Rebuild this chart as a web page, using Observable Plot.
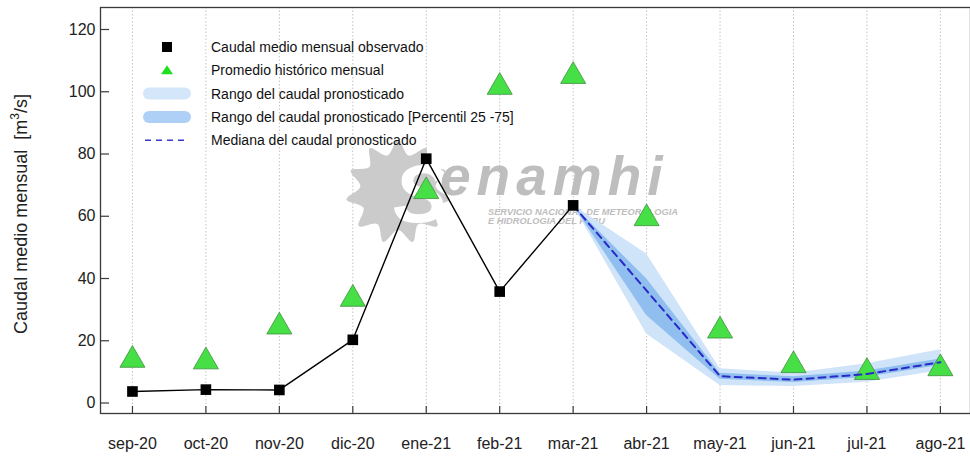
<!DOCTYPE html>
<html><head><meta charset="utf-8">
<script src="https://cdn.jsdelivr.net/npm/d3@7"></script>
<script src="https://cdn.jsdelivr.net/npm/@observablehq/plot@0.6"></script>
<style>
body{margin:0;background:#fff;font-family:"Liberation Sans",Arial,sans-serif;}
#wrap{width:970px;height:456px;overflow:hidden}
</style></head><body><div id="wrap"></div>
<script>
// ---- data ----
const months = ["sep-20","oct-20","nov-20","dic-20","ene-21","feb-21","mar-21","abr-21","may-21","jun-21","jul-21","ago-21"];
const observed = [3.7, 4.3, 4.2, 20.3, 78.5, 35.8, 63.5];
const historical = [13.8, 13.3, 24.5, 33.4, 68.0, 101.5, 105.0, 59.3, 23.2, 12.1, 9.9, 11.1];
const forecastMonths = ["mar-21","abr-21","may-21","jun-21","jul-21","ago-21"];
const median = [63.5, 36.1, 8.6, 7.5, 9.3, 13.1];
const rangeMin = [63.5, 22.2, 5.6, 5.3, 6.7, 10.4];
const rangeMax = [63.5, 47.9, 11.0, 9.6, 12.6, 17.1];
const p25 = [63.5, 28.1, 7.6, 6.6, 8.3, 12.1];
const p75 = [63.5, 39.9, 9.6, 8.4, 10.3, 14.1];
const yTicks = [0, 20, 40, 60, 80, 100, 120];
const legendLabels = [
  "Caudal medio mensual observado",
  "Promedio histórico mensual",
  "Rango del caudal pronosticado",
  "Rango del caudal pronosticado [Percentil 25 -75]",
  "Mediana del caudal pronosticado"
];
const yLabel = ["Caudal medio mensual  [m", "3", "/s]"];
const watermarkText = ["S", "enamhi", "SERVICIO NACIONAL DE METEOROLOGIA", "E HIDROLOGIA DEL PERU"];

// ---- tables ----
const idx = months.map((_, i) => i);
const obsT = observed.map((v, i) => ({x: i, y: v}));
const histT = historical.map((v, i) => ({x: i, y: v}));
const fcT = forecastMonths.map((m, i) => ({
  x: months.indexOf(m), med: median[i], lo: rangeMin[i], hi: rangeMax[i], q1: p25[i], q3: p75[i]
}));

const W = 970, H = 456, mL = 100, mR = 0, mT = 7, mB = 43;
const innerW = W - mL - mR, innerH = H - mT - mB;

function watermark() {
  const g = d3.create("svg:g").attr("opacity", 0.9);
  const cx = 398, cy = 192;
  const pts = [];
  const n = 11;
  for (let k = 0; k < n * 2; k++) {
    const a = (k / (n * 2)) * 2 * Math.PI;
    const r = k % 2 === 0 ? 52 : 38;
    pts.push([a, r]);
  }
  g.append("path")
    .attr("transform", `translate(${cx},${cy})`)
    .attr("d", d3.lineRadial().curve(d3.curveCardinalClosed.tension(0))(pts))
    .attr("fill", "#c6c6c6");
  const t = g.append("text").attr("text-anchor", "start")
    .attr("font-family", "Liberation Sans, Arial").attr("font-weight", "bold").attr("font-style", "italic");
  t.append("tspan").attr("x", 393).attr("y", 222).attr("font-size", 82).attr("fill", "#fff").text(watermarkText[0]);
  t.append("tspan").attr("x", 440).attr("y", 195).attr("font-size", 55).attr("fill", "#b8b8b8")
    .attr("letter-spacing", 6).text(watermarkText[1]);
  t.append("tspan").attr("x", 488).attr("y", 215).attr("font-size", 9).attr("fill", "#b8b8b8")
    .attr("textLength", 190).attr("lengthAdjust", "spacingAndGlyphs").text(watermarkText[2]);
  t.append("tspan").attr("x", 488).attr("y", 224).attr("font-size", 9).attr("fill", "#b8b8b8")
    .attr("textLength", 117).attr("lengthAdjust", "spacingAndGlyphs").text(watermarkText[3]);
  return g.node();
}

function legendAndLabel() {
  const g = d3.create("svg:g");
  const base = [52, 75.3, 98.6, 122, 145.3];
  const sx = 167;
  g.append("rect").attr("x", sx - 5).attr("y", base[0] - 10).attr("width", 10).attr("height", 10).attr("fill", "#000");
  const ty = base[1] - 5;
  g.append("path").attr("d", `M${sx},${ty - 5}L${sx + 6},${ty + 4}L${sx - 6},${ty + 4}Z`).attr("fill", "#1ee01e");
  g.append("rect").attr("x", 143).attr("y", base[2] - 11).attr("width", 48).attr("height", 12).attr("rx", 6).attr("fill", "#d4e7fa");
  g.append("rect").attr("x", 143).attr("y", base[3] - 11).attr("width", 48).attr("height", 12).attr("rx", 6).attr("fill", "#aed0f6");
  g.append("line").attr("x1", 145).attr("x2", 188).attr("y1", base[4] - 5).attr("y2", base[4] - 5)
    .attr("stroke", "#3838d0").attr("stroke-width", 1.6).attr("stroke-dasharray", "6,5");
  legendLabels.forEach((t, i) => {
    g.append("text").attr("x", 211).attr("y", base[i]).attr("text-anchor", "start")
      .attr("font-size", 14).attr("fill", "#111").text(t);
  });
  const yl = g.append("text").attr("transform", "translate(27,214) rotate(-90)")
    .attr("text-anchor", "middle").attr("font-size", 18).attr("fill", "#222");
  yl.append("tspan").text(yLabel[0]);
  yl.append("tspan").attr("font-size", 12).attr("dy", -8).text(yLabel[1]);
  yl.append("tspan").attr("dy", 8).text(yLabel[2]);
  return g.node();
}

const chart = Plot.plot({
  width: W, height: H,
  marginLeft: mL, marginRight: mR, marginTop: mT, marginBottom: mB,
  style: {background: "transparent", fontFamily: "Liberation Sans, Arial, sans-serif", color: "#222"},
  x: {type: "linear", domain: [-0.435, 11.41], axis: null},
  y: {domain: [-3.37, 127.07], axis: null},
  marks: [
    Plot.ruleX(idx, {x: d => d, stroke: "#c4c4c4", strokeDasharray: "1.5,2", strokeWidth: 1}),
    watermark,
    Plot.areaY(fcT, {x: "x", y1: "lo", y2: "hi", fill: "#cfe3f9"}),
    Plot.areaY(fcT, {x: "x", y1: "q1", y2: "q3", fill: "#8fbeef"}),
    Plot.dot(histT, {x: "x", y: "y", symbol: "triangle", r: 9.3, fill: "#46e046", stroke: "#3f8f3f", strokeWidth: 0.8}),
    Plot.line(fcT, {x: "x", y: "med", stroke: "#2a2ac8", strokeWidth: 2, strokeDasharray: "7,5"}),
    Plot.line(obsT, {x: "x", y: "y", stroke: "#000", strokeWidth: 1.4}),
    Plot.dot(obsT, {x: "x", y: "y", symbol: "square", r: 6, fill: "#000", stroke: "none"}),
    Plot.frame({stroke: "#3a3a3a", strokeWidth: 1.3}),
    Plot.tickY(yTicks, {y: d => d, insetRight: innerW - 9, stroke: "#3a3a3a", strokeWidth: 1.2}),
    Plot.tickX(idx, {x: d => d, insetTop: innerH - 7, stroke: "#3a3a3a", strokeWidth: 1.2}),
    Plot.axisY(yTicks, {tickSize: 0, tickPadding: 5, fontSize: 16, label: null}),
    Plot.axisX(idx, {tickSize: 0, tickPadding: 24, fontSize: 16, label: null, tickFormat: i => months[i]}),
    legendAndLabel
  ]
});
document.getElementById("wrap").appendChild(chart);
</script>
</body></html>
